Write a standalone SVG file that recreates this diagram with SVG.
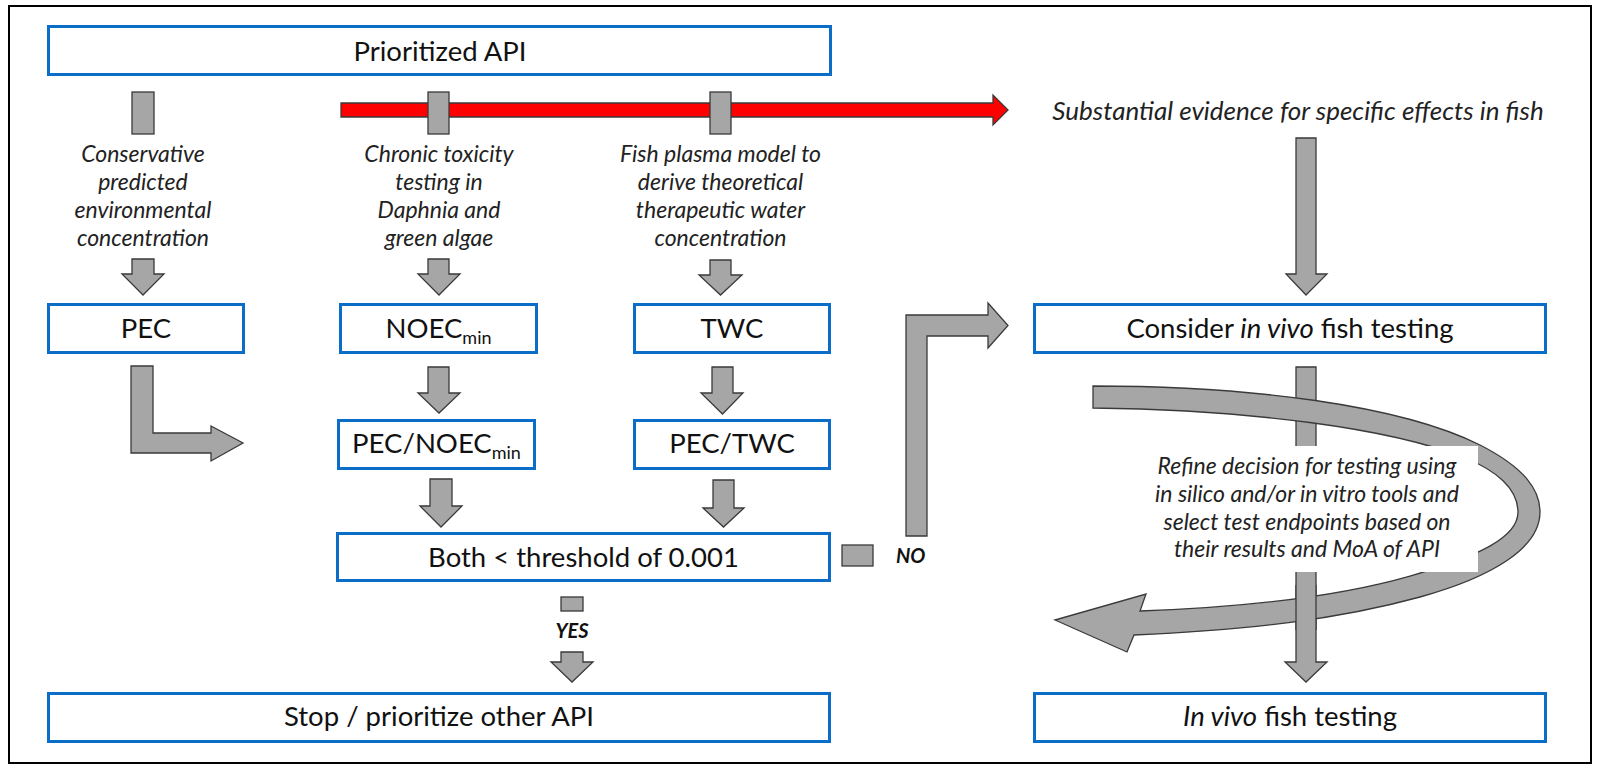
<svg xmlns="http://www.w3.org/2000/svg" width="1599" height="765" viewBox="0 0 1599 765">
<style>
.box{fill:#fff;stroke:#0a6ec8;stroke-width:3}
.arr{fill:#a6a6a6;stroke:#3a3a3a;stroke-width:1.3;stroke-linejoin:miter}
.red{fill:#ff0000;stroke:#3a3a3a;stroke-width:1.3}
.t{font-family:Lato,"Open Sans",sans-serif;font-size:27.5px;fill:#111;text-anchor:middle}
.i{font-family:Lato,"Open Sans",sans-serif;font-style:italic;font-size:23px;fill:#222;text-anchor:middle}
.lab{font-family:Lato,"Open Sans",sans-serif;font-style:italic;font-weight:bold;font-size:20px;fill:#111}
</style>
<rect x="9" y="6" width="1582" height="757" fill="#fff" stroke="#000" stroke-width="2"/>

<g id="connectors">
  <polygon class="red" points="341,103 993,103 993,95 1008,110 993,125 993,117 341,117"/>
  <rect class="arr" x="132" y="92" width="22" height="42"/>
  <rect class="arr" x="428" y="92" width="21" height="42"/>
  <rect class="arr" x="710" y="92" width="21" height="42"/>
  <polygon class="arr" points="132,259 154,259 154,274 164,274 143,295 122,274 132,274"/>
  <polygon class="arr" points="428,259 449,259 449,274 460,274 439,295 418,274 428,274"/>
  <polygon class="arr" points="710,260 731,260 731,275 742,275 720.5,295 699,275 710,275"/>
  <polygon class="arr" points="428,367 449,367 449,393 460,393 439,413 418,393 428,393"/>
  <polygon class="arr" points="430,479 452,479 452,506 462,506 441,527 420,506 430,506"/>
  <polygon class="arr" points="712,367 733,367 733,393 743,393 722.5,414 701,393 712,393"/>
  <polygon class="arr" points="713,480 734,480 734,508 744,508 723.5,527 703,508 713,508"/>
  <polygon class="arr" points="131,366 153,366 153,433 211,433 211,426 243,443 211,461 211,453 131,453"/>
  <polygon class="arr" points="906,536 906,315 988,315 988,303 1008,325.5 988,348 988,336 927,336 927,536"/>
  <rect class="arr" x="842" y="545" width="31" height="21"/>
  <rect class="arr" x="561" y="597" width="22" height="14"/>
  <polygon class="arr" points="561,652 583,652 583,662 593,662 572,682 551,662 561,662"/>
  <polygon class="arr" points="1296,138 1316,138 1316,274 1327,274 1306,295 1286,274 1296,274"/>
  <polygon class="arr" points="1296,367 1316,367 1316,662 1327,662 1306,682 1285,662 1296,662"/>
  <path class="arr" d="M1093,386 C1250,386 1400,405 1480,445 C1525,468 1540,490 1540,512 C1540,548 1492,577 1420,597 C1340,619 1250,630 1134,635 L1127,652 L1055,620 L1146,594 L1140,611 C1250,607 1340,596 1410,576 C1480,556 1518,537 1518,512 C1518,488 1495,470 1465,458 C1390,428 1250,410 1093,408 Z"/>
  <rect x="1296" y="585" width="20" height="45" fill="#a6a6a6"/>
  <path d="M1296,585 V630 M1316,585 V630" stroke="#3a3a3a" stroke-width="1.3" fill="none"/>
  <rect x="1136" y="446" width="342" height="126" fill="#fff"/>
  <text class="lab" x="896" y="563">NO</text>
  <text class="lab" x="572" y="638" text-anchor="middle">YES</text>
</g>

<g id="n-prioritized"><rect class="box" x="48.5" y="26.5" width="782" height="48"/><text class="t" x="440" y="61">Prioritized API</text></g>

<g id="n-conservative"><text class="i" x="143" y="162">Conservative</text><text class="i" x="143" y="190">predicted</text><text class="i" x="143" y="218">environmental</text><text class="i" x="143" y="246">concentration</text></g>
<g id="n-chronic"><text class="i" x="439" y="162">Chronic toxicity</text><text class="i" x="439" y="190">testing in</text><text class="i" x="439" y="218">Daphnia and</text><text class="i" x="439" y="246">green algae</text></g>
<g id="n-fishplasma"><text class="i" x="720.5" y="162">Fish plasma model to</text><text class="i" x="720.5" y="190">derive theoretical</text><text class="i" x="720.5" y="218">therapeutic water</text><text class="i" x="720.5" y="246">concentration</text></g>
<g id="n-evidence"><text class="i" x="1298" y="120" style="font-size:26px">Substantial evidence for specific effects in fish</text></g>

<g id="n-pec"><rect class="box" x="48.5" y="304.5" width="195" height="48"/><text class="t" x="146" y="338">PEC</text></g>
<g id="n-noec"><rect class="box" x="340.5" y="304.5" width="196" height="48"/><text class="t" x="438.5" y="338">NOEC<tspan font-size="18" dy="6">min</tspan></text></g>
<g id="n-twc"><rect class="box" x="634.5" y="304.5" width="195" height="48"/><text class="t" x="732" y="338">TWC</text></g>
<g id="n-consider"><rect class="box" x="1034.5" y="304.5" width="511" height="48"/><text class="t" x="1290" y="338">Consider <tspan font-style="italic">in vivo</tspan> fish testing</text></g>

<g id="n-pecnoec"><rect class="box" x="338.5" y="420.5" width="196" height="48"/><text class="t" x="436.5" y="453">PEC/NOEC<tspan font-size="18" dy="6">min</tspan></text></g>
<g id="n-pectwc"><rect class="box" x="634.5" y="420.5" width="195" height="48"/><text class="t" x="732" y="453">PEC/TWC</text></g>

<g id="n-refine"><text class="i" x="1307" y="474" style="font-size:23px">Refine decision for testing using</text><text class="i" x="1307" y="502" style="font-size:23px">in silico and/or in vitro tools and</text><text class="i" x="1307" y="530" style="font-size:23px">select test endpoints based on</text><text class="i" x="1307" y="557" style="font-size:23px">their results and MoA of API</text></g>

<g id="n-both"><rect class="box" x="337.5" y="533.5" width="492" height="47"/><text class="t" x="583.5" y="567">Both &lt; threshold of 0.001</text></g>
<g id="n-stop"><rect class="box" x="48.5" y="693.5" width="781" height="48"/><text class="t" x="439" y="726">Stop / prioritize other API</text></g>
<g id="n-invivo"><rect class="box" x="1034.5" y="693.5" width="511" height="48"/><text class="t" x="1290" y="726"><tspan font-style="italic">In vivo</tspan> fish testing</text></g>
</svg>
